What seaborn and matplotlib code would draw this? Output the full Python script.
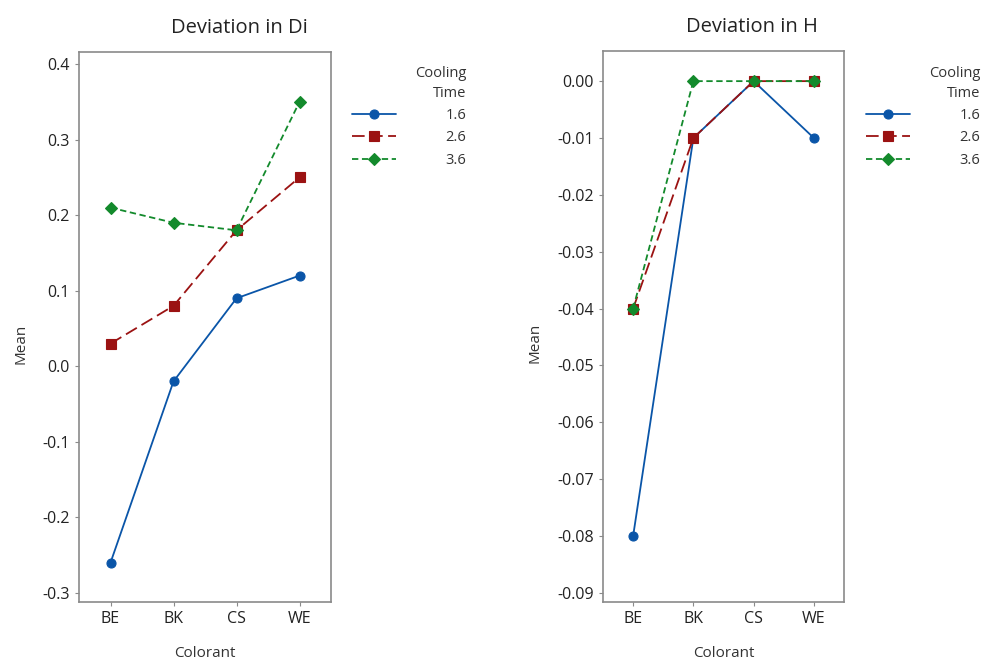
import matplotlib
matplotlib.use("Agg")
import matplotlib.pyplot as plt
import seaborn as sns
import pandas as pd

colorants = ["BE", "BK", "CS", "WE"]
cooling_times = ["1.6", "2.6", "3.6"]
di_16 = [-0.26, -0.02, 0.09, 0.12]
di_26 = [0.03, 0.08, 0.18, 0.25]
di_36 = [0.21, 0.19, 0.18, 0.35]
h_16 = [-0.08, -0.01, 0.00, -0.01]
h_26 = [-0.04, -0.01, 0.00, 0.00]
h_36 = [-0.04, 0.00, 0.00, 0.00]
di_ticks = [-0.3, -0.2, -0.1, 0.0, 0.1, 0.2, 0.3, 0.4]
di_ticklabels = ["-0.3", "-0.2", "-0.1", "0.0", "0.1", "0.2", "0.3", "0.4"]
h_ticks = [-0.09, -0.08, -0.07, -0.06, -0.05, -0.04, -0.03, -0.02, -0.01, 0.00]
h_ticklabels = ["-0.09", "-0.08", "-0.07", "-0.06", "-0.05", "-0.04", "-0.03", "-0.02", "-0.01", "0.00"]

sns.set_style("white")
plt.rcParams["font.family"] = ["Open Sans", "DejaVu Sans"]

palette = {"1.6": "#0a55a8", "2.6": "#9b1212", "3.6": "#138a2c"}
markers = {"1.6": "o", "2.6": "s", "3.6": "D"}
dashes = {"1.6": "", "2.6": (7, 3), "3.6": (3.5, 2)}


def make_df(series):
    rows = []
    for ct, vals in zip(cooling_times, series):
        for c, v in zip(colorants, vals):
            rows.append({"Colorant": c, "Mean": v, "Cooling Time": ct})
    return pd.DataFrame(rows)


df_di = make_df([di_16, di_26, di_36])
df_h = make_df([h_16, h_26, h_36])

fig = plt.figure(figsize=(9.82, 6.62), dpi=100)
W, H = 982, 662
ax1 = fig.add_axes([79 / W, (H - 602) / H, (331 - 79) / W, (602 - 52) / H])
ax2 = fig.add_axes([603 / W, (H - 602) / H, (844 - 603) / W, (602 - 51) / H])

spine_c = "#8a8a8a"
for ax, df, title, tx, ticks, tl, ylim, leg_right, ylx in [
    (ax1, df_di, "Deviation in Di", 0.635, di_ticks, di_ticklabels, (-0.312, 0.416), 472, -0.20),
    (ax2, df_h, "Deviation in H", 0.62, h_ticks, h_ticklabels, (-0.0916, 0.0053), 986, -0.25),
]:
    sns.lineplot(data=df, x="Colorant", y="Mean", hue="Cooling Time",
                 style="Cooling Time", palette=palette, markers=markers,
                 dashes=dashes, markersize=6.5, markeredgewidth=0.8,
                 linewidth=1.3, ax=ax, sort=False)
    for line in ax.lines:
        line.set_markeredgecolor(line.get_color())
    ax.set_xlim(-0.5, 3.5)
    ax.set_ylim(*ylim)
    ax.set_yticks(ticks)
    ax.set_yticklabels(tl)
    ax.set_title(title, fontsize=14.5, color="#222222", pad=14, x=tx)
    ax.set_xlabel("Colorant", fontsize=11, color="#333333")
    ax.set_ylabel("Mean", fontsize=11, color="#333333")
    ax.xaxis.set_label_coords(0.5, -0.08)
    ax.yaxis.set_label_coords(ylx, 0.47)
    ax.tick_params(axis="both", labelsize=11.5, colors="#222222",
                   length=3, width=0.8, color=spine_c, bottom=True, left=True)
    for s in ax.spines.values():
        s.set_color(spine_c)
        s.set_linewidth(1.2)
        s.set_visible(True)
    handles, labels = ax.get_legend_handles_labels()
    ax.get_legend().remove()
    for h_ in handles:
        h_.set_markeredgecolor(h_.get_color())
    leg = ax.legend(handles, labels, title="Cooling\nTime", frameon=False,
                    loc="upper right", bbox_to_anchor=(leg_right / W, (H - 60) / H),
                    bbox_transform=fig.transFigure, alignment="right",
                    handlelength=3.0, handletextpad=3.4, labelspacing=0.5,
                    fontsize=10.5, title_fontsize=10.5, borderaxespad=0)
    leg.get_title().set_ha("right")
    leg.get_title().set_linespacing(1.45)
    leg.get_title().set_color("#333333")
    for t in leg.get_texts():
        t.set_color("#333333")

fig.savefig("out.png", dpi=100)
